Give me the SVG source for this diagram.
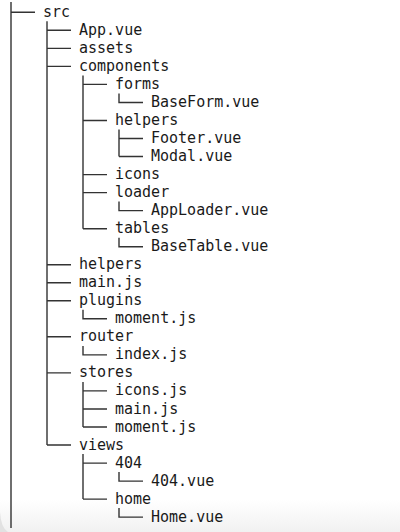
<svg xmlns="http://www.w3.org/2000/svg" width="400" height="532" viewBox="0 0 400 532">
<style>
  .t { font-family: "DejaVu Sans Mono", "Liberation Mono", monospace; font-size: 15px; letter-spacing: 0px; fill: #1a1a1a; }
  .c { stroke: #333333; stroke-width: 1.4; fill: none; }
</style>
<defs>
  <linearGradient id="shade" x1="0" y1="0" x2="0" y2="1">
    <stop offset="0" stop-color="#ffffff"/>
    <stop offset="1" stop-color="#f1f1f1"/>
  </linearGradient>
</defs>
<rect x="0" y="0" width="400" height="532" fill="#ffffff"/>
<rect x="0" y="500" width="400" height="32" fill="url(#shade)"/>
<path d="M0 512 Q1 528 8 532 L0 532 Z" fill="#e2e2e2"/>
<g id="connectors" class="c">
  <path d="M11 2 V528 M11 12.3 H35"/>
  <path d="M47 21.3 V445 M47 30.3 H71 M47 48.4 H71 M47 66.4 H71 M47 264.7 H71 M47 282.8 H71 M47 300.8 H71 M47 336.8 H71 M47 372.9 H71 M47 445 H71"/>
  <path d="M83 75.4 V228.7 M83 84.4 H107 M83 120.5 H107 M83 174.6 H107 M83 192.6 H107 M83 228.7 H107"/>
  <path d="M119 93.4 V102.5 H143 M119 129.5 V156.5 M119 138.5 H143 M119 156.5 H143 M119 201.6 V210.6 H143 M119 237.7 V246.7 H143"/>
  <path d="M83 309.8 V318.8 H107 M83 345.9 V354.9 H107 M83 381.9 V427 M83 390.9 H107 M83 409 H107 M83 427 H107"/>
  <path d="M83 454 V499.1 M83 463.1 H107 M83 499.1 H107 M119 472.1 V481.1 H143 M119 508.1 V517.1 H143"/>
</g>
<g id="n-src"><text class="t" x="43" y="16.8">src</text></g>
<g id="n-app-vue"><text class="t" x="79" y="34.8">App.vue</text></g>
<g id="n-assets"><text class="t" x="79" y="52.9">assets</text></g>
<g id="n-components"><text class="t" x="79" y="70.9">components</text></g>
<g id="n-forms"><text class="t" x="115" y="88.9">forms</text></g>
<g id="n-baseform"><text class="t" x="151" y="107">BaseForm.vue</text></g>
<g id="n-comp-helpers"><text class="t" x="115" y="125">helpers</text></g>
<g id="n-footer"><text class="t" x="151" y="143">Footer.vue</text></g>
<g id="n-modal"><text class="t" x="151" y="161">Modal.vue</text></g>
<g id="n-icons"><text class="t" x="115" y="179.1">icons</text></g>
<g id="n-loader"><text class="t" x="115" y="197.1">loader</text></g>
<g id="n-apploader"><text class="t" x="151" y="215.1">AppLoader.vue</text></g>
<g id="n-tables"><text class="t" x="115" y="233.2">tables</text></g>
<g id="n-basetable"><text class="t" x="151" y="251.2">BaseTable.vue</text></g>
<g id="n-helpers"><text class="t" x="79" y="269.2">helpers</text></g>
<g id="n-main-js"><text class="t" x="79" y="287.3">main.js</text></g>
<g id="n-plugins"><text class="t" x="79" y="305.3">plugins</text></g>
<g id="n-plugins-moment"><text class="t" x="115" y="323.3">moment.js</text></g>
<g id="n-router"><text class="t" x="79" y="341.3">router</text></g>
<g id="n-router-index"><text class="t" x="115" y="359.4">index.js</text></g>
<g id="n-stores"><text class="t" x="79" y="377.4">stores</text></g>
<g id="n-stores-icons"><text class="t" x="115" y="395.4">icons.js</text></g>
<g id="n-stores-main"><text class="t" x="115" y="413.5">main.js</text></g>
<g id="n-stores-moment"><text class="t" x="115" y="431.5">moment.js</text></g>
<g id="n-views"><text class="t" x="79" y="449.5">views</text></g>
<g id="n-404"><text class="t" x="115" y="467.6">404</text></g>
<g id="n-404-vue"><text class="t" x="151" y="485.6">404.vue</text></g>
<g id="n-home"><text class="t" x="115" y="503.6">home</text></g>
<g id="n-home-vue"><text class="t" x="151" y="521.6">Home.vue</text></g>
</svg>
